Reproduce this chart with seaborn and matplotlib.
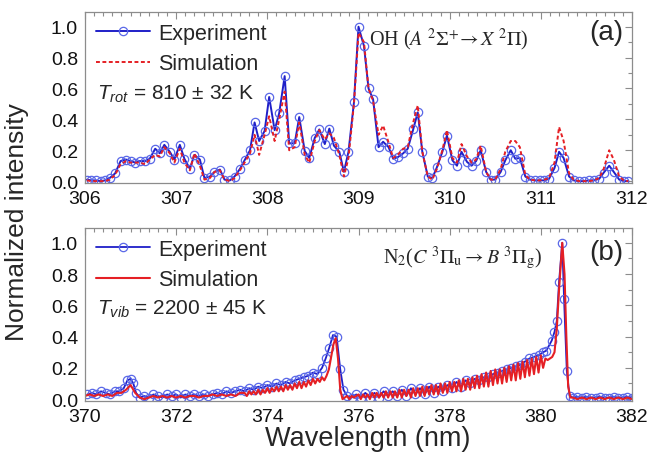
import matplotlib
matplotlib.use("Agg")
import matplotlib.pyplot as plt
import seaborn as sns
from matplotlib.ticker import MultipleLocator, FormatStrFormatter

sns.set_theme(style="white")
plt.rcParams["font.family"] = ["Liberation Sans", "DejaVu Sans"]
plt.rcParams["mathtext.fontset"] = "custom"
plt.rcParams["mathtext.rm"] = "Liberation Sans"
plt.rcParams["mathtext.it"] = "Liberation Sans:italic"

# ---------------- OH (A-X) band, panel (a) ----------------
oh_wl = [306.02, 306.07, 306.12, 306.17, 306.22, 306.27, 306.33, 306.39, 306.45, 306.50,
         306.55, 306.60, 306.66, 306.71, 306.77, 306.82, 306.87, 306.93, 306.98, 307.04,
         307.09, 307.15, 307.20, 307.26, 307.31, 307.37, 307.42, 307.48, 307.53, 307.59,
         307.64, 307.70, 307.75, 307.81, 307.86, 307.91, 307.97, 308.02, 308.08, 308.13,
         308.19, 308.24, 308.30, 308.35, 308.41, 308.46, 308.52, 308.57, 308.63, 308.68,
         308.73, 308.79, 308.84, 308.89, 308.95, 309.00, 309.06, 309.11, 309.16, 309.22,
         309.27, 309.33, 309.38, 309.43, 309.49, 309.54, 309.60, 309.65, 309.70, 309.76,
         309.81, 309.86, 309.92, 309.97, 310.03, 310.08, 310.13, 310.19, 310.24, 310.29,
         310.34, 310.40, 310.45, 310.50, 310.56, 310.61, 310.67, 310.72, 310.77, 310.83,
         310.88, 310.94, 310.99, 311.04, 311.09, 311.15, 311.20, 311.25, 311.31, 311.36,
         311.42, 311.47, 311.53, 311.58, 311.64, 311.69, 311.75, 311.80, 311.86, 311.91,
         311.96]
oh_exp = [0.01, 0.005, 0.005, 0.0, 0.005, 0.02, 0.05, 0.13, 0.14, 0.13,
          0.12, 0.13, 0.13, 0.145, 0.21, 0.18, 0.235, 0.19, 0.14, 0.235,
          0.145, 0.08, 0.17, 0.14, 0.02, 0.03, 0.06, 0.075, 0.01, 0.005,
          0.03, 0.08, 0.135, 0.2, 0.38, 0.26, 0.325, 0.545, 0.33, 0.44,
          0.68, 0.245, 0.245, 0.415, 0.195, 0.15, 0.28, 0.335, 0.24, 0.34,
          0.23, 0.19, 0.06, 0.19, 0.51, 1.0, 0.875, 0.6, 0.53, 0.22,
          0.255, 0.22, 0.145, 0.155, 0.18, 0.21, 0.335, 0.445, 0.19, 0.03,
          0.02, 0.09, 0.19, 0.295, 0.135, 0.10, 0.19, 0.125, 0.10, 0.13,
          0.2, 0.06, 0.01, 0.01, 0.06, 0.135, 0.2, 0.145, 0.15, 0.03,
          0.01, 0.005, 0.005, 0.005, 0.015, 0.085, 0.19, 0.15, 0.03, 0.005,
          0.0, 0.0, 0.005, 0.005, 0.015, 0.055, 0.10, 0.06, 0.01, 0.0,
          0.0]
oh_sim = [0.005, 0.0, 0.0, 0.0, 0.0, 0.01, 0.04, 0.11, 0.13, 0.12,
          0.12, 0.12, 0.11, 0.14, 0.17, 0.16, 0.22, 0.18, 0.12, 0.21,
          0.12, 0.07, 0.18, 0.10, 0.01, 0.02, 0.06, 0.07, 0.01, 0.0,
          0.02, 0.07, 0.12, 0.18, 0.30, 0.17, 0.30, 0.42, 0.26, 0.40,
          0.58, 0.20, 0.22, 0.38, 0.17, 0.12, 0.26, 0.33, 0.27, 0.31,
          0.28, 0.17, 0.03, 0.15, 0.50, 0.96, 0.90, 0.60, 0.52, 0.30,
          0.36, 0.25, 0.15, 0.17, 0.21, 0.22, 0.38, 0.49, 0.19, 0.03,
          0.01, 0.08, 0.20, 0.33, 0.15, 0.12, 0.24, 0.16, 0.12, 0.14,
          0.23, 0.06, 0.01, 0.01, 0.08, 0.19, 0.26, 0.26, 0.22, 0.04,
          0.01, 0.005, 0.005, 0.01, 0.02, 0.12, 0.35, 0.26, 0.05, 0.01,
          0.0, 0.0, 0.0, 0.005, 0.02, 0.08, 0.20, 0.14, 0.03, 0.005,
          0.0]

# ---------------- N2 (C-B) second positive system, panel (b) ----------------
n2_exp_wl = [370.05, 370.15, 370.25, 370.35, 370.45, 370.55, 370.65, 370.75, 370.85, 370.93,
             371.00, 371.06, 371.12, 371.20, 371.30, 371.40, 371.50, 371.60, 371.70, 371.80,
             371.90, 372.00, 372.10, 372.20, 372.30, 372.40, 372.50, 372.60, 372.70, 372.80,
             372.90, 373.00, 373.10, 373.20, 373.30, 373.40, 373.50, 373.60, 373.70, 373.80,
             373.90, 374.00, 374.10, 374.20, 374.30, 374.40, 374.50, 374.60, 374.70, 374.80,
             374.90, 375.00, 375.10, 375.20, 375.28, 375.36, 375.44, 375.52, 375.60, 375.67,
             375.75, 375.85, 375.95, 376.05, 376.15, 376.25, 376.35, 376.45, 376.55, 376.65,
             376.75, 376.85, 376.95, 377.05, 377.15, 377.25, 377.35, 377.45, 377.55, 377.65,
             377.75, 377.85, 377.95, 378.05, 378.15, 378.25, 378.35, 378.45, 378.55, 378.65,
             378.75, 378.85, 378.95, 379.05, 379.15, 379.25, 379.35, 379.45, 379.55, 379.65,
             379.75, 379.85, 379.95, 380.05, 380.12, 380.24, 380.30, 380.35, 380.40, 380.47,
             380.51, 380.57, 380.63, 380.70, 380.80, 380.90, 381.00, 381.10, 381.20, 381.30,
             381.40, 381.50, 381.60, 381.70, 381.80, 381.90, 382.00]
n2_exp = [0.03, 0.04, 0.03, 0.05, 0.04, 0.03, 0.05, 0.05, 0.07, 0.12,
          0.13, 0.10, 0.04, 0.01, 0.02, 0.01, 0.03, 0.02, 0.01, 0.03,
          0.02, 0.03, 0.01, 0.03, 0.02, 0.03, 0.02, 0.03, 0.02, 0.03,
          0.04, 0.03, 0.05, 0.04, 0.05, 0.06, 0.05, 0.07, 0.06, 0.08,
          0.07, 0.09, 0.08, 0.10, 0.09, 0.11, 0.10, 0.12, 0.13, 0.14,
          0.15, 0.17, 0.16, 0.20, 0.26, 0.33, 0.41, 0.40, 0.19, 0.06,
          0.02, 0.01, 0.03, 0.01, 0.04, 0.01, 0.04, 0.01, 0.05, 0.02,
          0.05, 0.02, 0.06, 0.02, 0.07, 0.03, 0.07, 0.03, 0.08, 0.04,
          0.08, 0.05, 0.09, 0.07, 0.11, 0.08, 0.12, 0.10, 0.13, 0.12,
          0.14, 0.14, 0.16, 0.17, 0.18, 0.19, 0.20, 0.21, 0.22, 0.24,
          0.26, 0.27, 0.28, 0.30, 0.31, 0.375, 0.43, 0.50, 0.75, 1.00,
          0.64, 0.18, 0.02, 0.01, 0.015, 0.01, 0.015, 0.01, 0.01, 0.015,
          0.01, 0.01, 0.015, 0.01, 0.01, 0.015, 0.01]

n2_sim_wl = [370.00, 370.10, 370.20, 370.30, 370.40, 370.50, 370.60, 370.70, 370.80, 370.90,
             371.00, 371.10, 371.20, 371.30, 371.40, 371.50, 371.60, 371.70, 371.80, 371.90,
             372.00, 372.10, 372.20, 372.30, 372.40, 372.50, 372.60, 372.70, 372.80, 372.90,
             373.00, 373.10, 373.20, 373.30, 373.40,
             373.50, 373.55, 373.60, 373.65, 373.70, 373.75, 373.80, 373.85, 373.90, 373.95,
             374.00, 374.05, 374.10, 374.15, 374.20, 374.25, 374.30, 374.35, 374.40, 374.45,
             374.50, 374.55, 374.60, 374.65, 374.70, 374.75, 374.80, 374.85, 374.90, 374.95,
             375.00, 375.05, 375.10, 375.15, 375.20, 375.25, 375.30, 375.35, 375.40, 375.45,
             375.50, 375.55, 375.60, 375.65, 375.70, 375.75, 375.80, 375.85, 375.90, 375.95,
             376.00, 376.05, 376.10, 376.15, 376.20, 376.25, 376.30, 376.35, 376.40, 376.45,
             376.50, 376.55, 376.60, 376.65, 376.70, 376.75, 376.80, 376.85, 376.90, 376.95,
             377.00, 377.05, 377.10, 377.15, 377.20, 377.25, 377.30, 377.35, 377.40, 377.45,
             377.50, 377.55, 377.60, 377.65, 377.70, 377.75, 377.80, 377.85, 377.90, 377.95,
             378.00, 378.05, 378.10, 378.15, 378.20, 378.25, 378.30, 378.35, 378.40, 378.45,
             378.50, 378.55, 378.60, 378.65, 378.70, 378.75, 378.80, 378.85, 378.90, 378.95,
             379.00, 379.05, 379.10, 379.15, 379.20, 379.25, 379.30, 379.35, 379.40, 379.45,
             379.50, 379.55, 379.60, 379.65, 379.70, 379.75, 379.80, 379.85, 379.90, 379.95,
             380.00, 380.05, 380.10, 380.15, 380.20, 380.25, 380.30, 380.35, 380.40, 380.47,
             380.52, 380.56, 380.60, 380.65, 380.70, 380.80, 380.90, 381.00, 381.10, 381.20,
             381.30, 381.40, 381.50, 381.60, 381.70, 381.80, 381.90, 382.00]
n2_sim = [0.02, 0.03, 0.02, 0.03, 0.02, 0.03, 0.02, 0.04, 0.04, 0.06,
          0.09, 0.04, 0.01, 0.00, 0.01, 0.02, 0.01, 0.02, 0.01, 0.02,
          0.01, 0.02, 0.01, 0.02, 0.02, 0.01, 0.02, 0.02, 0.03, 0.02,
          0.03, 0.02, 0.03, 0.02, 0.04,
          0.04, 0.02, 0.05, 0.03, 0.05, 0.03, 0.06, 0.03, 0.06, 0.04,
          0.07, 0.04, 0.07, 0.05, 0.08, 0.05, 0.08, 0.05, 0.09, 0.06,
          0.09, 0.06, 0.10, 0.07, 0.11, 0.07, 0.11, 0.08, 0.12, 0.09,
          0.13, 0.10, 0.13, 0.11, 0.14, 0.12, 0.15, 0.19, 0.27, 0.35,
          0.39, 0.26, 0.06, 0.00, 0.01, 0.02, 0.00, 0.02, 0.01, 0.02,
          0.03, 0.00, 0.03, 0.01, 0.03, 0.00, 0.04, 0.01, 0.04, 0.01,
          0.04, 0.01, 0.05, 0.01, 0.05, 0.01, 0.05, 0.01, 0.06, 0.01,
          0.06, 0.02, 0.06, 0.01, 0.07, 0.02, 0.07, 0.02, 0.08, 0.02,
          0.08, 0.03, 0.09, 0.03, 0.09, 0.03, 0.10, 0.04, 0.10, 0.04,
          0.11, 0.05, 0.11, 0.05, 0.12, 0.05, 0.13, 0.06, 0.13, 0.06,
          0.14, 0.07, 0.15, 0.07, 0.16, 0.08, 0.17, 0.08, 0.18, 0.09,
          0.19, 0.10, 0.19, 0.10, 0.20, 0.11, 0.21, 0.12, 0.22, 0.12,
          0.23, 0.13, 0.24, 0.14, 0.25, 0.15, 0.26, 0.16, 0.27, 0.17,
          0.28, 0.20, 0.26, 0.25, 0.26, 0.27, 0.30, 0.45, 0.70, 1.00,
          0.80, 0.40, 0.08, 0.01, 0.01, 0.00, 0.01, 0.00, 0.01, 0.00,
          0.01, 0.00, 0.01, 0.00, 0.01, 0.00, 0.01, 0.00]

# ---------------- styling ----------------
EXP_LINE = "#1f1fc8"
EXP_MARK = "#5a68e8"
SIM_RED = "#e51f24"
FRAME = "#8c8c8c"

fig = plt.figure(figsize=(6.52, 4.60), dpi=100)
ax1 = fig.add_axes([0.1304, 0.600, 0.8389, 0.3717])
ax2 = fig.add_axes([0.1304, 0.1261, 0.8389, 0.3761])

mk = dict(marker="o", markersize=6.0, markerfacecolor="none",
          markeredgecolor=EXP_MARK, markeredgewidth=0.9)

sns.lineplot(x=oh_wl, y=oh_exp, ax=ax1, color=EXP_LINE, lw=1.4,
             estimator=None, sort=False, label="Experiment", **mk)
sns.lineplot(x=oh_wl, y=oh_sim, ax=ax1, color=SIM_RED, lw=1.4,
             linestyle=(0, (2.0, 1.3)), estimator=None, sort=False,
             label="Simulation")

sns.lineplot(x=n2_exp_wl, y=n2_exp, ax=ax2, color=EXP_LINE, lw=1.3,
             estimator=None, sort=False, label="Experiment", **mk)
sns.lineplot(x=n2_sim_wl, y=n2_sim, ax=ax2, color=SIM_RED, lw=1.5,
             estimator=None, sort=False, label="Simulation")

for ax, (x0, x1), major, minor in ((ax1, (306, 312), 1, 0.1),
                                   (ax2, (370, 382), 2, 0.2)):
    ax.set_xlim(x0, x1)
    ax.set_ylim(-0.012, 1.095)
    ax.xaxis.set_major_locator(MultipleLocator(major))
    ax.xaxis.set_minor_locator(MultipleLocator(minor))
    ax.yaxis.set_major_locator(MultipleLocator(0.2))
    ax.yaxis.set_minor_locator(MultipleLocator(0.1))
    ax.yaxis.set_major_formatter(FormatStrFormatter("%.1f"))
    ax.tick_params(which="both", direction="in", top=True, right=True,
                   color=FRAME, width=0.8, labelsize=14, labelcolor="#111111",
                   pad=5)
    ax.tick_params(which="major", length=5)
    ax.tick_params(which="minor", length=3)
    for sp in ax.spines.values():
        sp.set_color(FRAME)
        sp.set_linewidth(0.9)
    ax.set_xlabel("")
    ax.set_ylabel("")
    ax.legend(loc="upper left", bbox_to_anchor=(0.0, 1.0), frameon=False,
              fontsize=15.5, handlelength=2.5, handletextpad=0.4,
              labelspacing=0.45, borderaxespad=0.3, borderpad=0.2)

ax1.text(0.022, 0.525, r"$T_{rot}$ = 810 ± 32 K", transform=ax1.transAxes,
         fontsize=15, va="center", ha="left")
ax2.text(0.022, 0.535, r"$T_{vib}$ = 2200 ± 45 K", transform=ax2.transAxes,
         fontsize=15, va="center", ha="left")

ax1.text(0.519, 0.845, r"OH ($A\ {}^{2}\Sigma^{+}\!\rightarrow X\ {}^{2}\Pi$)",
         transform=ax1.transAxes, fontsize=14.5, va="center", ha="left",
         family="Liberation Serif", math_fontfamily="stix")
ax2.text(0.545, 0.832,
         r"N$_2$($C\ {}^{3}\Pi_\mathrm{u}\rightarrow B\ {}^{3}\Pi_\mathrm{g}$)",
         transform=ax2.transAxes, fontsize=14.5, va="center", ha="left",
         family="Liberation Serif", math_fontfamily="stix")

ax1.text(0.984, 0.883, "(a)", transform=ax1.transAxes, fontsize=20,
         va="center", ha="right")
ax2.text(0.984, 0.861, "(b)", transform=ax2.transAxes, fontsize=20,
         va="center", ha="right")

fig.text(0.026, 0.517, "Normalized intensity", rotation=90, fontsize=19,
         va="center", ha="center")
fig.text(0.564, 0.046, "Wavelength (nm)", fontsize=19.5, va="center",
         ha="center")

fig.savefig("out.png", dpi=100, facecolor="white")
